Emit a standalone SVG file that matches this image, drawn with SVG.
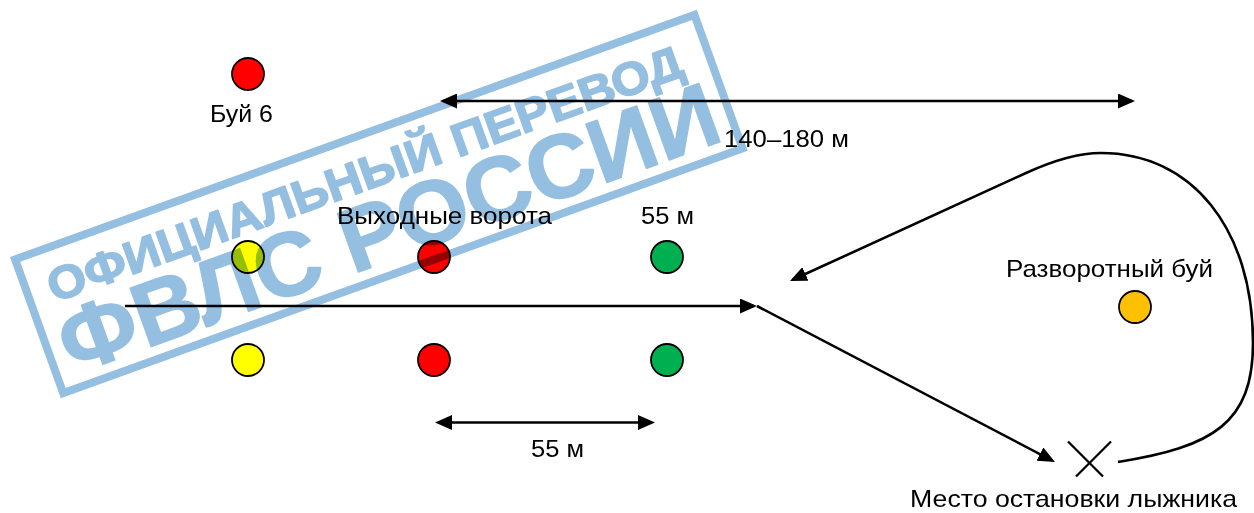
<svg xmlns="http://www.w3.org/2000/svg" width="1254" height="513" viewBox="0 0 1254 513">
  <style>
    .lbl { font-family: "Liberation Sans", Arial, sans-serif; font-size: 24px; fill: #000; }
    .buoy { stroke: #000; stroke-width: 1.8; }
    .ln { stroke: #000; stroke-width: 2.6; fill: none; }
    .stamp-t { font-family: "Liberation Sans", Arial, sans-serif; font-weight: bold; fill: #95bfe1; stroke: #95bfe1; stroke-width: 1.6; stroke-linejoin: round; }
  </style>
  <defs>
    <marker id="ah" viewBox="0 0 17 15" refX="14" refY="7.5" markerWidth="17" markerHeight="15" markerUnits="userSpaceOnUse" orient="auto-start-reverse">
      <path d="M0,0 L17,7.5 L0,15 z" fill="#000"/>
    </marker>
  </defs>
  <rect x="0" y="0" width="1254" height="513" fill="#fff"/>

  <g id="connectors">
    <line class="ln" x1="443" y1="101" x2="1132" y2="101" marker-start="url(#ah)" marker-end="url(#ah)"/>
    <line class="ln" x1="438" y1="422.5" x2="652" y2="422.5" marker-start="url(#ah)" marker-end="url(#ah)"/>
    <line class="ln" x1="125" y1="306" x2="754" y2="306" marker-end="url(#ah)"/>
    <line class="ln" x1="757" y1="306" x2="1052.3" y2="460.6" marker-end="url(#ah)"/>
    <path class="ln" d="M1118,462 C1213,447 1253,423 1253,343 C1253,229 1192,153 1101,153 C1075,153 1050,162 1026,173 L792.7,279.8" marker-end="url(#ah)"/>
  </g>

  <g id="buoy6">
    <circle class="buoy" cx="248" cy="74" r="16" fill="#FF0000"/>
    <text class="lbl" x="210" y="122" textLength="63" lengthAdjust="spacingAndGlyphs">Буй 6</text>
  </g>

  <g id="exit-gate">
    <text class="lbl" x="337" y="224" textLength="215" lengthAdjust="spacingAndGlyphs">Выходные ворота</text>
    <circle class="buoy" cx="248" cy="257" r="16" fill="#FFFF00"/>
    <circle class="buoy" cx="434" cy="257" r="16" fill="#FF0000"/>
    <circle class="buoy" cx="667" cy="257" r="16" fill="#00B050"/>
    <circle class="buoy" cx="248" cy="360" r="16" fill="#FFFF00"/>
    <circle class="buoy" cx="434" cy="360" r="16" fill="#FF0000"/>
    <circle class="buoy" cx="667" cy="360" r="16" fill="#00B050"/>
  </g>

  <g id="label-55-top">
    <text class="lbl" x="641" y="224" textLength="53" lengthAdjust="spacingAndGlyphs">55 м</text>
  </g>
  <g id="label-140-180">
    <text class="lbl" x="724" y="147" textLength="125" lengthAdjust="spacingAndGlyphs">140–180 м</text>
  </g>
  <g id="label-55-bottom">
    <text class="lbl" x="531" y="457" textLength="53" lengthAdjust="spacingAndGlyphs">55 м</text>
  </g>

  <g id="turn-buoy">
    <text class="lbl" x="1006" y="277" textLength="207" lengthAdjust="spacingAndGlyphs">Разворотный буй</text>
    <circle class="buoy" cx="1135" cy="307" r="16" fill="#FFC000"/>
  </g>

  <g id="skier-stop">
    <line x1="1068" y1="441.5" x2="1103" y2="476.5" stroke="#000" stroke-width="2.3"/>
    <line x1="1111" y1="441.5" x2="1076" y2="476.5" stroke="#000" stroke-width="2.3"/>
    <text class="lbl" x="910" y="507" textLength="327" lengthAdjust="spacingAndGlyphs">Место остановки лыжника</text>
  </g>

  <g id="stamp" transform="translate(10,257) rotate(-19.8)" style="mix-blend-mode: multiply">
    <rect x="4" y="4" width="722" height="142" fill="none" stroke="#95bfe1" stroke-width="8"/>
    <text class="stamp-t" x="26" y="58" font-size="46" textLength="672" lengthAdjust="spacingAndGlyphs">ОФИЦИАЛЬНЫЙ ПЕРЕВОД</text>
    <text class="stamp-t" x="18" y="132" font-size="90" textLength="695" lengthAdjust="spacingAndGlyphs">ФВЛС РОССИИ</text>
  </g>
</svg>
